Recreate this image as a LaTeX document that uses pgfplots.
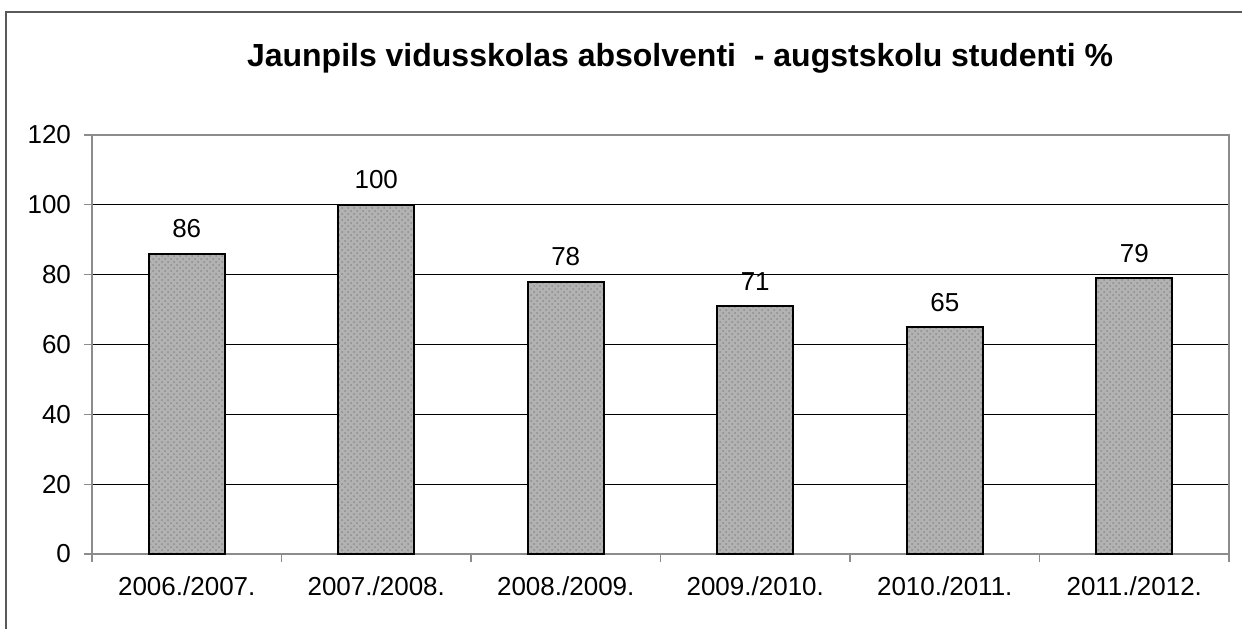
\documentclass[border=0pt]{standalone}
\usepackage{fontspec}
\setmainfont{Liberation Sans}
\usepackage{pgfplots}
\pgfplotsset{compat=1.18}
\usetikzlibrary{patterns}
\begin{document}
\begin{tikzpicture}
\useasboundingbox (0,0) rectangle (621pt,314pt);
\draw[line width=0.6pt, black!65] (3pt,-10pt) -- (3pt,308pt) -- (640pt,308pt);
\node[font=\bfseries\fontsize{16}{19}\selectfont] at (340pt,285pt)
  {Jaunpils vidusskolas absolventi\ \ - augstskolu studenti \%};
\begin{axis}[
  at={(46pt,37pt)}, anchor=south west,
  scale only axis, width=568.5pt, height=209.5pt,
  xmin=-0.5, xmax=5.5, ymin=0, ymax=120,
  ytick={0,20,...,120},
  xtick={0,...,5},
  xticklabels={2006./2007.,2007./2008.,2008./2009.,2009./2010.,2010./2011.,2011./2012.},
  minor xtick={-0.5,0.5,...,5.5},
  major x tick style={draw=none},
  xtick pos=bottom, ytick pos=left,
  tick align=outside,
  major tick length=4pt, minor tick length=4pt,
  tick style={gray!90, line width=0.6pt},
  ymajorgrids,
  major grid style={black, line width=0.5pt},
  axis line style={gray!90, line width=0.8pt},
  tick label style={font=\fontsize{13}{15}\selectfont},
  /pgf/number format/assume math mode=true,
  xticklabel style={yshift=-4pt},
  yticklabel style={xshift=-3pt},
  ybar, bar width=38pt,
  nodes near coords,
  nodes near coords style={font=\fontsize{13}{15}\selectfont, yshift=4pt},
]
\addplot[draw=black, line width=1pt, fill=gray!60,
  postaction={pattern=crosshatch dots, pattern color=black!45}] coordinates {
  (0,86) (1,100) (2,78) (3,71) (4,65) (5,79)
};
\end{axis}
\end{tikzpicture}
\end{document}
